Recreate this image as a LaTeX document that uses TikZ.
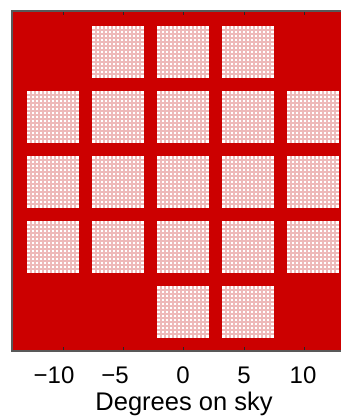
\documentclass[tikz,border=0pt]{standalone}
\usepackage{fontspec}
\setmainfont{Liberation Sans}
\definecolor{bgred}{RGB}{204,0,0}
\definecolor{meshpink}{RGB}{238,185,185}
\begin{document}
\begin{tikzpicture}[x=1pt,y=-1pt,
  tilefill/.style={fill=white},
  mesh/.style={draw=meshpink,line width=1.3pt},
  frameline/.style={draw=black!65,line width=1.6pt},
  tickmark/.style={draw=black!85,line width=0.9pt},
  lab/.style={font=\fontsize{24}{27}\selectfont,inner sep=0pt,anchor=base},
  axlab/.style={font=\fontsize{25.5}{28}\selectfont,inner sep=0pt,anchor=base}]
\useasboundingbox (0,0) rectangle (341,417);
\fill[bgred] (12,11) rectangle (341,351);
\foreach \c/\r in {1/0,2/0,3/0,
                   0/1,1/1,2/1,3/1,4/1,
                   0/2,1/2,2/2,3/2,4/2,
                   0/3,1/3,2/3,3/3,4/3,
                   2/4,3/4}{
  \fill[tilefill] ({27+65*\c},{26+65*\r}) rectangle ++(52,52);
  \foreach \k in {4,8,...,48}{
    \draw[mesh] ({27+65*\c+\k},{26+65*\r}) -- ++(0,52);
    \draw[mesh] ({27+65*\c},{26+65*\r+\k}) -- ++(52,0);
  }
}
\draw[frameline] (341,11) -- (12,11) -- (12,351) -- (341,351);
\foreach \t in {63,123,183,244,304}{
  \draw[tickmark] (\t,12) -- (\t,15);
  \draw[tickmark] (\t,350) -- (\t,347);
}
\node[lab] (tm10) at (54,383) {−10};
\node[lab] (tm5) at (115,383) {−5};
\node[lab] (t0) at (183,383) {0};
\node[lab] (t5) at (244,383) {5};
\node[lab] (t10) at (303,383) {10};
\node[axlab] (xlabel) at (184,410) {Degrees on sky};
\end{tikzpicture}
\end{document}
